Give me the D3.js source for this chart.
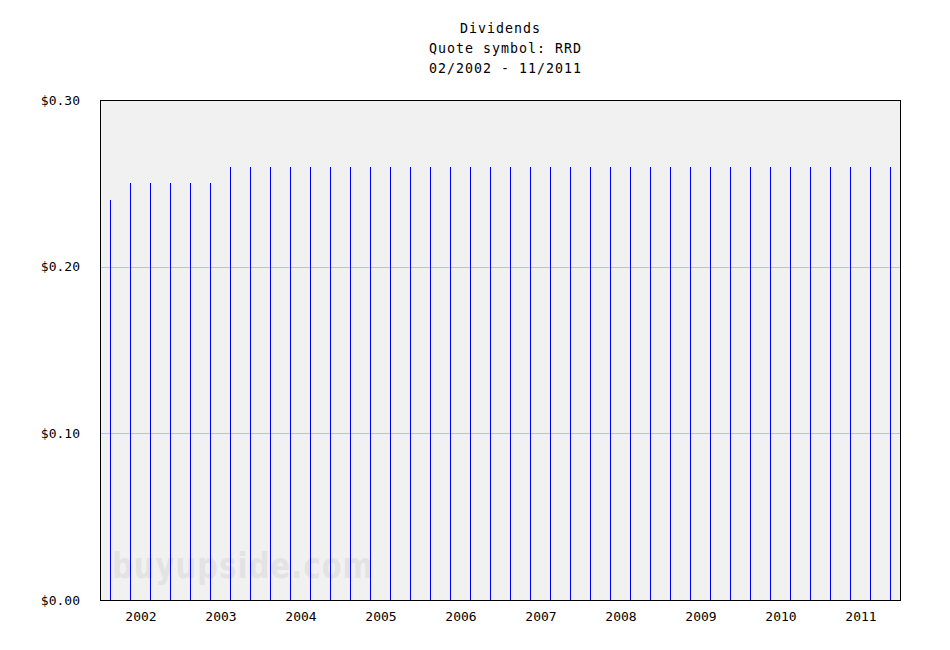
<!DOCTYPE html>
<html><head><meta charset="utf-8">
<script src="https://cdn.jsdelivr.net/npm/d3@7"></script>
<style>body{margin:0;background:#fff}</style>
</head><body>
<svg id="c" width="950" height="650"></svg>
<script>
const titleLines = ["Dividends", "Quote symbol: RRD", "02/2002 - 11/2011"];
const dates = ["02/2002","05/2002","08/2002","11/2002","02/2003","05/2003","08/2003","11/2003",
"02/2004","05/2004","08/2004","11/2004","02/2005","05/2005","08/2005","11/2005",
"02/2006","05/2006","08/2006","11/2006","02/2007","05/2007","08/2007","11/2007",
"02/2008","05/2008","08/2008","11/2008","02/2009","05/2009","08/2009","11/2009",
"02/2010","05/2010","08/2010","11/2010","02/2011","05/2011","08/2011","11/2011"];
const dividends = [0.24,0.25,0.25,0.25,0.25,0.25,0.26,0.26,
0.26,0.26,0.26,0.26,0.26,0.26,0.26,0.26,
0.26,0.26,0.26,0.26,0.26,0.26,0.26,0.26,
0.26,0.26,0.26,0.26,0.26,0.26,0.26,0.26,
0.26,0.26,0.26,0.26,0.26,0.26,0.26,0.26];
const years = ["2002","2003","2004","2005","2006","2007","2008","2009","2010","2011"];
const yTicks = [0, 0.10, 0.20, 0.30];

const svg = d3.select("#c");
const L = 100, T = 100, R = 900, B = 600;
const font = "'DejaVu Sans Mono', 'Liberation Mono', monospace";

const x = d3.scaleBand().domain(dates).range([L, R]);
const xYear = d3.scaleBand().domain(years).range([L, R]);
const y = d3.scaleLinear().domain([0, 0.30]).range([B, T]);

svg.append("rect").attr("x", L).attr("y", T).attr("width", R - L).attr("height", B - T).attr("fill", "#f1f1f1");

// watermark
svg.append("text").attr("x", 112).attr("y", 578).text("buyupside.com")
  .attr("font-family", "'DejaVu Sans', Verdana, sans-serif").attr("font-weight", "bold")
  .attr("font-size", 35).attr("fill", "#e3e3e3").attr("letter-spacing", 1.5)
  .attr("textLength", 262).attr("lengthAdjust", "spacingAndGlyphs");

// gridlines
svg.append("g").selectAll("line").data(yTicks.filter(d => d > 0 && d < 0.30)).join("line")
  .attr("x1", L).attr("x2", R).attr("y1", d => Math.round(y(d)) + 0.5).attr("y2", d => Math.round(y(d)) + 0.5)
  .attr("stroke", "#bcbce4").attr("stroke-width", 1);

// bars
svg.append("g").selectAll("line").data(dates).join("line")
  .attr("x1", d => Math.round(x(d) + x.bandwidth() / 2) + 0.5)
  .attr("x2", d => Math.round(x(d) + x.bandwidth() / 2) + 0.5)
  .attr("y1", B).attr("y2", (d, i) => Math.round(y(dividends[i])))
  .attr("stroke", "#0000ff").attr("stroke-width", 1);

// frame
svg.append("rect").attr("x", L + 0.5).attr("y", T + 0.5).attr("width", R - L).attr("height", B - T)
  .attr("fill", "none").attr("stroke", "#000").attr("stroke-width", 1);

// y axis labels
const yAxis = d3.axisLeft(y).tickValues(yTicks).tickSize(0).tickPadding(0)
  .tickFormat(d => "$" + d.toFixed(2));
const gy = svg.append("g").attr("transform", `translate(${L - 20},0)`).call(yAxis);
gy.select(".domain").remove();
gy.selectAll("text").attr("font-family", font).attr("font-size", 13).attr("fill", "#000");

// x axis labels
const xAxis = d3.axisBottom(xYear).tickSize(0).tickPadding(0);
const gx = svg.append("g").attr("transform", `translate(1,${B + 12})`).call(xAxis);
gx.select(".domain").remove();
gx.selectAll("text").attr("font-family", font).attr("font-size", 13).attr("fill", "#000");

// title
svg.append("g").selectAll("text").data(titleLines).join("text")
  .attr("x", (d, i) => i === 0 ? 460 : 429).attr("y", (d, i) => 33 + i * 20)
  .attr("text-anchor", "start")
  .attr("font-family", font).attr("font-size", 13.3).attr("letter-spacing", 1)
  .attr("fill", "#000").text(d => d);
</script>
</body></html>
